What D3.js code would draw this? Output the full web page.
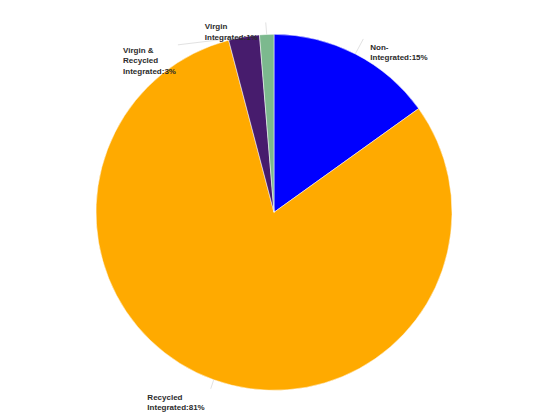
<!DOCTYPE html>
<html>
<head>
<meta charset="utf-8">
<script src="https://cdn.jsdelivr.net/npm/d3@7"></script>
<style>
  body { margin: 0; background: #fff; }
  text { font-family: "Liberation Sans", Arial, sans-serif; }
</style>
</head>
<body>
<div id="chart"><svg></svg></div>
<script>
const categories = ['Non-Integrated', 'Recycled Integrated', 'Virgin & Recycled Integrated', 'Virgin Integrated'];
const values = [15.1, 80.8, 2.8, 1.3];
const colors = ['#0000FF', '#FFAA00', '#471C6D', '#7CB98E'];
const labelLines = [
  ['Non-', 'Integrated:'],
  ['Recycled', 'Integrated:'],
  ['Virgin &', 'Recycled', 'Integrated:'],
  ['Virgin', 'Integrated:']
];

// label placement: leader end relative to slice edge point, then text block offset
const labelLayout = [
  { lx: 8, ly: -15, side: 'right', dx: 7, dy: 11 },
  { lx: -3, ly: 9, side: 'left', dx: -6, dy: 11 },
  { lx: -66, ly: 8, side: 'left', dx: -2, dy: 8 },
  { lx: -1, ly: -12, side: 'left', dx: -8, dy: 7 }
];

(function() {
  const width = 550;
  const height = 418;
  const cx = 274;
  const cy = 212.3;
  const radius = 178;

  const svg = d3.select('#chart svg')
    .attr('width', width)
    .attr('height', height);

  const data = categories.map(function(c, i) {
    return { name: c, value: values[i], color: colors[i], lines: labelLines[i], layout: labelLayout[i] };
  });
  const total = d3.sum(values);

  const pie = d3.pie().sort(null).value(function(d) { return d.value; });
  const arc = d3.arc().innerRadius(0).outerRadius(radius);
  const edgeArc = d3.arc().innerRadius(radius).outerRadius(radius);

  const g = svg.append('g').attr('transform', 'translate(' + cx + ',' + cy + ')');
  const lines = g.append('g').attr('class', 'lines');
  const slices = g.append('g').attr('class', 'slices');
  const labels = g.append('g').attr('class', 'labels');

  const arcs = pie(data);

  lines.selectAll('line')
    .data(arcs)
    .enter().append('line')
    .attr('x1', function(d) { return edgeArc.centroid(d)[0]; })
    .attr('y1', function(d) { return edgeArc.centroid(d)[1]; })
    .attr('x2', function(d) { return edgeArc.centroid(d)[0] + d.data.layout.lx; })
    .attr('y2', function(d) { return edgeArc.centroid(d)[1] + d.data.layout.ly; })
    .style('stroke', '#e2e2e2')
    .style('stroke-width', 1);

  slices.selectAll('path')
    .data(arcs)
    .enter().append('path')
    .attr('d', arc)
    .attr('fill', function(d) { return d.data.color; })
    .attr('stroke', '#ffffff')
    .attr('stroke-width', 0.5);

  const blocks = labels.selectAll('text')
    .data(arcs)
    .enter().append('text')
    .style('font-size', '8px')
    .style('font-weight', 'bold')
    .attr('fill', '#2b2b2b');

  blocks.each(function(d) {
    const t = d3.select(this);
    const pct = Math.round(d.data.value / total * 100) + '%';
    const n = d.data.lines.length;
    d.data.lines.forEach(function(s, i) {
      t.append('tspan')
        .attr('dy', i === 0 ? 0 : 10.5)
        .text(i === n - 1 ? s + pct : s);
    });
    let w = 0;
    t.selectAll('tspan').each(function() { w = Math.max(w, this.getComputedTextLength()); });
    const p = edgeArc.centroid(d);
    const lay = d.data.layout;
    const ex = p[0] + lay.lx;
    const ey = p[1] + lay.ly;
    const x0 = lay.side === 'right' ? ex + lay.dx : ex + lay.dx - w;
    t.attr('y', ey + lay.dy);
    t.selectAll('tspan').attr('x', x0);
  });
})();
</script>
</body>
</html>
